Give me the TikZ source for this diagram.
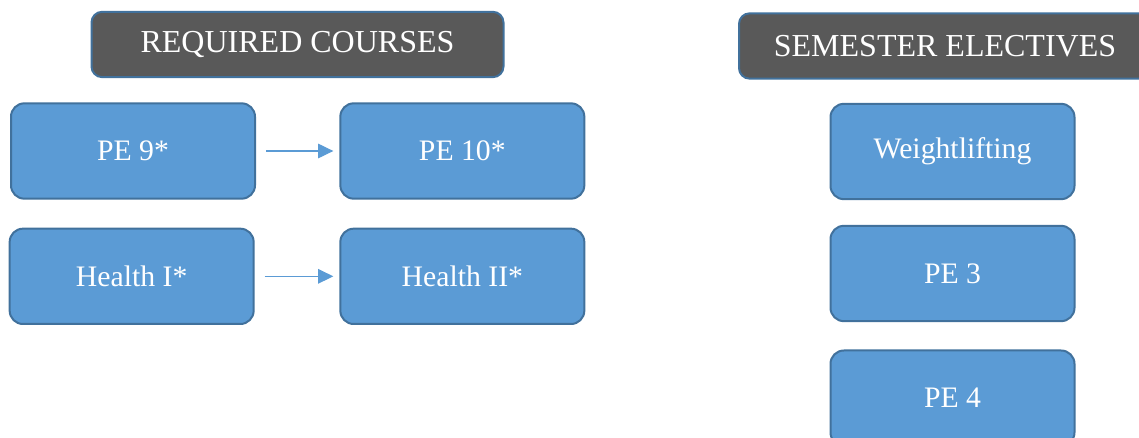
\documentclass[tikz,border=0pt]{standalone}
\usepackage{fontspec}
\setmainfont{Liberation Serif}
\usetikzlibrary{positioning, arrows.meta}
\definecolor{boxblue}{HTML}{5B9BD5}
\definecolor{edgeblue}{HTML}{41719C}
\definecolor{headgray}{HTML}{595959}

\begin{document}
\begin{tikzpicture}[x=0.75pt, y=-0.75pt, block/.style={rectangle,rounded corners=10pt,draw=edgeblue,line width=1.5pt,fill=boxblue,text=white,minimum width=183pt,minimum height=71.5pt,align=center,font=\fontsize{22.3}{26}\selectfont}, head/.style={rectangle,rounded corners=8pt,draw=edgeblue,line width=1.5pt,fill=headgray,text=white,minimum width=309pt,minimum height=49pt,align=center,font=\fontsize{24}{28}\selectfont}, link/.style={-{Triangle[length=11.5pt,width=11pt]}, boxblue, line width=0.8pt, shorten <=7.5pt, shorten >=4.5pt} ]
\useasboundingbox (0,0) rectangle (1139,438);
\node (b1) [head] at (297.5,44.5) {REQUIRED COURSES};
\node (b2) [head] at (945,46) {SEMESTER ELECTIVES};
\node (b3) [block] at (133,151) {PE 9*};
\node (b4) [block, right=62.5pt of b3] {PE 10*};
\node (b5) [block, below=21pt of b3.south west, anchor=north west, xshift=-1pt] {Health I*};
\node (b6) [block, below=21pt of b4] {Health II*};
\node (b7) [block] at (952.5,151.5) {Weightlifting};
\node (b8) [block, below=18.5pt of b7] {PE 3};
\node (b9) [block, below=20.5pt of b8] {PE 4};
  \begin{scope}
    \draw [link] (b3.east) -- (b4.west);
    \draw [link] (b5.east |- b6.west) -- (b6.west);
  \end{scope}
\end{tikzpicture}
\end{document}
